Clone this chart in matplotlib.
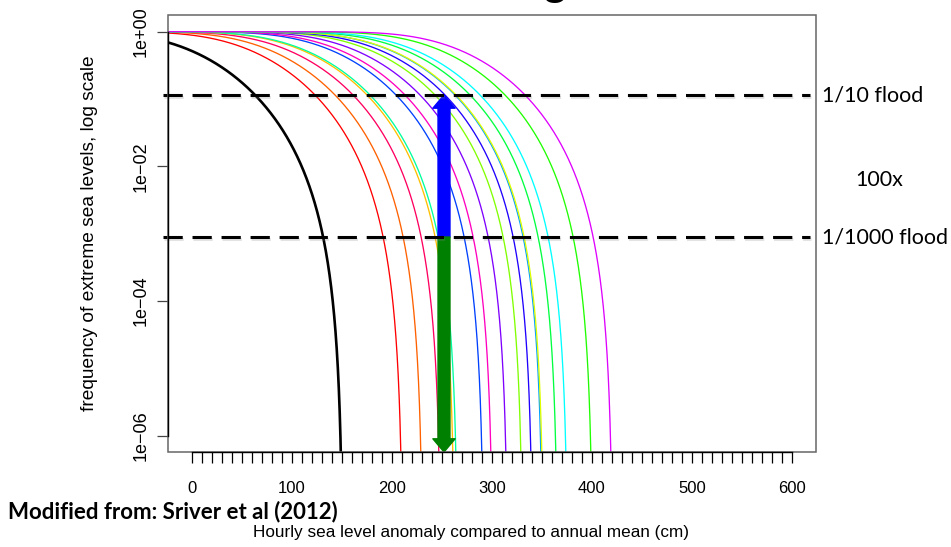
import numpy as np
import matplotlib
matplotlib.use("Agg")
import matplotlib.pyplot as plt
from matplotlib import patheffects as pe
from matplotlib.patches import Rectangle

# ---------------- data ----------------
# present-day exceedance curve: GEV survival function (black curve)
gev_loc = -15.4
gev_scale = 50.4
gev_shape = -0.303
# projected curves = present-day curve shifted by sea-level rise (cm)
curve_shifts = [60, 80, 98, 112, 115, 141, 150, 165, 180, 190, 200, 201, 215, 225, 250, 270]
curve_colors = ["#FF0000", "#FF6000", "#FF0060", "#FFBF00", "#00FF9F", "#0040FF",
                "#FF00BF", "#8000FF", "#80FF00", "#2000FF", "#009FFF", "#DFFF00",
                "#00FF40", "#00FFFF", "#20FF00", "#DF00FF"]
flood_levels = [10 ** -0.94, 10 ** -3.05]
flood_labels = ["1/10 flood", "1/1000 flood"]
ratio_label = "100x"
flood_line_x = [-29, 618]
arrow_x = 252
xtick_values = list(range(0, 601, 10))
xtick_labels = [str(v) if v % 100 == 0 else "" for v in xtick_values]
ytick_values = [1e0, 1e-2, 1e-4, 1e-6]
ytick_labels = ["1e+00", "1e\u221202", "1e\u221204", "1e\u221206"]
x_limits = (-24, 624)
y_limits = (10 ** -6.242, 10 ** 0.248)

W, H = 951, 547
fig = plt.figure(figsize=(W / 100, H / 100), dpi=100)
L, R, T, B = 168, 816, 15, 452
ax = fig.add_axes([L / W, 1 - B / H, (R - L) / W, (B - T) / H])
ax.set_yscale("log")
ax.set_xlim(*x_limits)
ax.set_ylim(*y_limits)


def exceedance(x, shift):
    z = 1 + gev_shape * (x - gev_loc - shift) / gev_scale
    t = np.where(z > 0, np.clip(z, 1e-300, None) ** (-1.0 / gev_shape), 0.0)
    s = -np.expm1(-t)
    s[s <= 0] = np.nan
    return s


xs = np.arange(x_limits[0], x_limits[1], 0.02)
ax.plot(xs, exceedance(xs, 0), color="black", lw=1.9, zorder=3)
for sh, c in zip(curve_shifts, curve_colors):
    ax.plot(xs, exceedance(xs, sh), color=c, lw=0.95, zorder=2)

# arrows
arrow_style = "simple,head_length=0.95,head_width=1.6,tail_width=0.86"
ax.annotate("", xy=(arrow_x, flood_levels[0]), xytext=(arrow_x, flood_levels[1]),
            arrowprops=dict(arrowstyle=arrow_style, mutation_scale=10, color="#0000FF",
                            shrinkA=0, shrinkB=0), zorder=4)
ax.annotate("", xy=(arrow_x, y_limits[0]), xytext=(arrow_x, flood_levels[1]),
            arrowprops=dict(arrowstyle=arrow_style, mutation_scale=10, color="#008000",
                            shrinkA=0, shrinkB=0), zorder=4)

# dashed flood lines
for lvl in flood_levels:
    ax.plot(flood_line_x, [lvl, lvl], color="black", lw=2.2, dashes=(6.3, 3.2),
            clip_on=False, zorder=5,
            path_effects=[pe.SimpleLineShadow(offset=(0.6, -1.2), shadow_color="gray", alpha=0.22),
                          pe.Normal()])

# frame: grey box + black R-style axes
for s in ax.spines.values():
    s.set_visible(False)
ax.add_patch(Rectangle((0, 0), 1, 1, transform=ax.transAxes, fill=False,
                       edgecolor="#666666", lw=1.1, zorder=6, clip_on=False))
ax.spines["left"].set_visible(True)
ax.spines["bottom"].set_visible(True)
ax.spines["left"].set_bounds(ytick_values[-1], ytick_values[0])
ax.spines["bottom"].set_bounds(xtick_values[0], xtick_values[-1])
ax.spines["left"].set_linewidth(1.0)
ax.spines["bottom"].set_linewidth(1.0)
ax.spines["left"].set_zorder(7)
ax.spines["bottom"].set_zorder(7)

ax.set_xticks(xtick_values)
ax.set_xticklabels(xtick_labels, fontsize=12, family="Liberation Sans")
ax.set_yticks(ytick_values)
ax.set_yticklabels(ytick_labels, fontsize=13, family="Liberation Sans",
                   rotation=90, va="center")
ax.minorticks_off()
ax.tick_params(axis="x", length=8, width=0.9, pad=13, color="black")
ax.tick_params(axis="y", length=8, width=0.9, pad=5, color="#444444")

# axis titles
fig.text(471 / W, 1 - 533 / H, "Hourly sea level anomaly compared to annual mean (cm)",
         ha="center", va="center", fontsize=12.3, family="Liberation Sans")
fig.text(90 / W, 1 - 233 / H, "frequency of extreme sea levels, log scale",
         ha="center", va="center", rotation=90, fontsize=13.8, family="Liberation Sans")

# slide annotations
fig.text(822 / W, 1 - 96 / H, flood_labels[0], ha="left", va="center",
         fontsize=15.5, family="Lato")
fig.text(855 / W, 1 - 180 / H, ratio_label, ha="left", va="center",
         fontsize=15.5, family="Lato")
fig.text(822 / W, 1 - 237 / H, flood_labels[1], ha="left", va="center",
         fontsize=15.5, family="Lato")
fig.text(8 / W, 1 - 512 / H, "Modified from: Sriver et al (2012)", ha="left",
         va="center", fontsize=16, family="Lato", weight="bold")
# descender of the cropped slide title above the chart (cropped in the reference too)
fig.text(555 / W, 1 + 4 / H, "g", ha="center", va="baseline", fontsize=31, family="Lato")

fig.savefig("out.png", dpi=100)
